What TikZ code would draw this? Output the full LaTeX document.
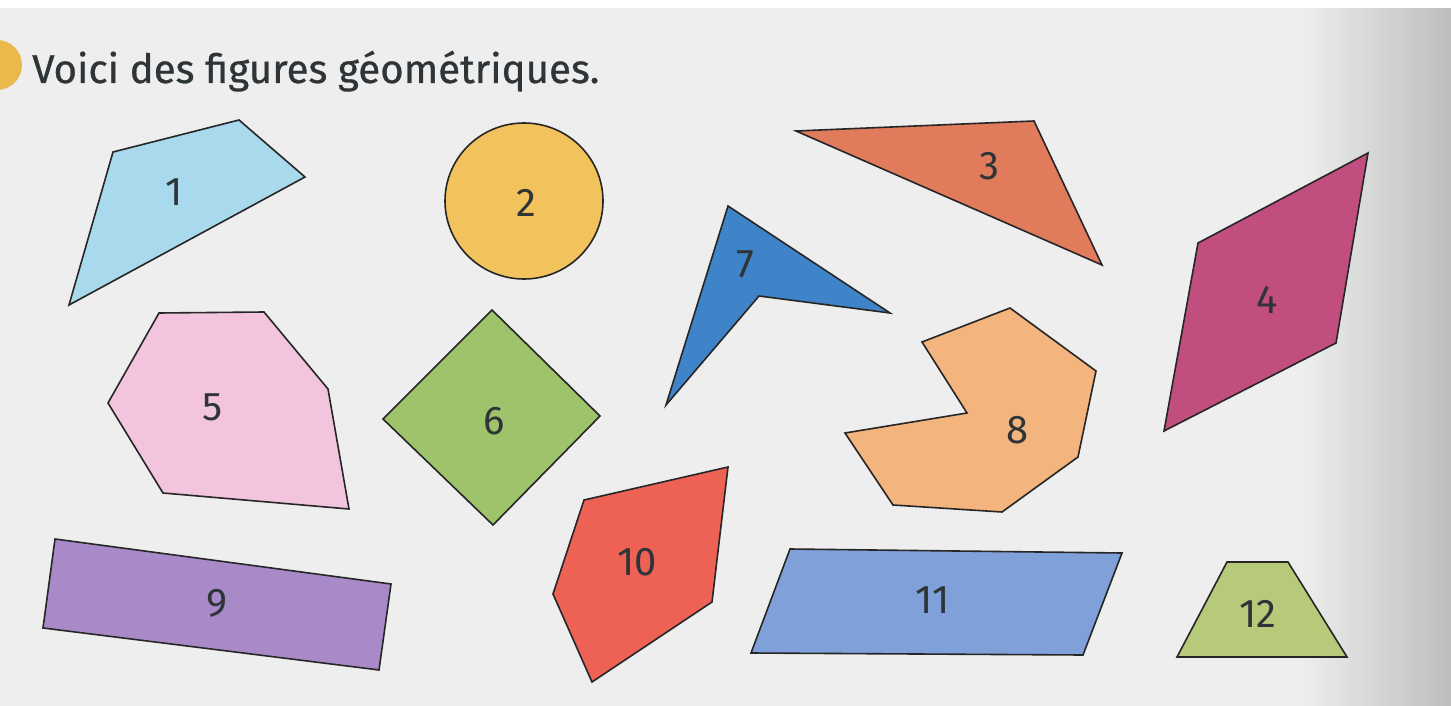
\documentclass[tikz,border=0pt]{standalone}
\usepackage{fontspec}
\setmainfont{Fira Sans}
\newfontfamily\titlefont[FakeBold=0.7]{Fira Sans}
\definecolor{paper}{HTML}{EDEEED}
\definecolor{paperdark}{HTML}{BDBFBE}
\definecolor{ink}{HTML}{2E3437}
\definecolor{cA}{HTML}{A9D9EC}
\definecolor{cB}{HTML}{F2C25C}
\definecolor{cC}{HTML}{E07C5C}
\definecolor{cD}{HTML}{C24E80}
\definecolor{cE}{HTML}{F3C4DD}
\definecolor{cF}{HTML}{9EC36B}
\definecolor{cG}{HTML}{3F84C8}
\definecolor{cH}{HTML}{F3B47D}
\definecolor{cI}{HTML}{A98AC9}
\definecolor{cJ}{HTML}{EE6256}
\definecolor{cK}{HTML}{7FA0D9}
\definecolor{cL}{HTML}{B7CA7A}
\definecolor{dot}{HTML}{E9B94C}
\tikzset{
  fig/.style={draw=black!85, line width=1.6pt, line join=miter},
  lbl/.style={font=\fontsize{40}{40}\selectfont, text=ink, inner sep=0pt, anchor=center}
}
\begin{document}
\begin{tikzpicture}[x=1pt,y=-1pt]
\useasboundingbox (0,0) rectangle (1451,706);
% paper
\fill[paper] (0,0) rectangle (1451,706);
\shade[left color=paper, right color=paperdark] (1300,0) rectangle (1451,706);
\fill[white] (0,0) rectangle (1451,8);
% title
\fill[dot] (-3,65) circle (25);
\node[anchor=base west, inner sep=0pt, text=ink] (title) at (32,83)
  {\resizebox{567pt}{!}{\titlefont Voici des figures géométriques.}};
% 1
\filldraw[fig, fill=cA] (113,152) -- (239,120) -- (305,177) -- (69,305) -- cycle;
\node[lbl] (n1) at (174,192) {1};
% 2
\filldraw[fig, fill=cB] (524,201) ellipse [x radius=79, y radius=78];
\node[lbl] (n2) at (526,203) {2};
% 3
\filldraw[fig, fill=cC] (796,131) -- (1034,121) -- (1102,265) -- cycle;
\node[lbl] (n3) at (989,166) {3};
% 4
\filldraw[fig, fill=cD] (1198,243) -- (1368,153) -- (1336,343) -- (1164,431) -- cycle;
\node[lbl] (n4) at (1267,300) {4};
% 5
\filldraw[fig, fill=cE] (159,313) -- (264,312) -- (328,389) -- (349,509) -- (163,493) -- (108,403) -- cycle;
\node[lbl] (n5) at (213,407) {5};
% 6
\filldraw[fig, fill=cF] (492,310) -- (600,416) -- (493,525) -- (383,419) -- cycle;
\node[lbl] (n6) at (494,421) {6};
% 7
\filldraw[fig, fill=cG] (728,206) -- (890,313) -- (759,296) -- (666,405) -- cycle;
\node[lbl] (n7) at (745,264) {7};
% 8
\filldraw[fig, fill=cH] (922,342) -- (1010,308) -- (1096,371) -- (1078,457) -- (1002,512) -- (893,505) -- (845,433) -- (967,413) -- cycle;
\node[lbl] (n8) at (1018,430) {8};
% 9
\filldraw[fig, fill=cI] (55,539) -- (391,584) -- (379,670) -- (43,628) -- cycle;
\node[lbl] (n9) at (217,603) {9};
% 10
\filldraw[fig, fill=cJ] (584,500) -- (728,467) -- (712,602) -- (592,682) -- (553,594) -- cycle;
\node[lbl] (n10) at (637,562) {10};
% 11
\filldraw[fig, fill=cK] (790,549) -- (1122,553) -- (1083,655) -- (751,653) -- cycle;
\node[lbl] (n11) at (933,600) {11};
% 12
\filldraw[fig, fill=cL] (1227,562) -- (1288,562) -- (1347,657) -- (1177,657) -- cycle;
\node[lbl] (n12) at (1258,614) {12};
\end{tikzpicture}
\end{document}
